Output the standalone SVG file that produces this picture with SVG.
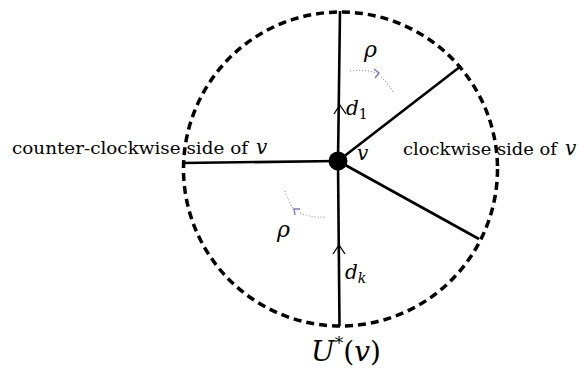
<svg xmlns="http://www.w3.org/2000/svg" width="578" height="373" viewBox="0 0 578 373">
<style>
.edge{stroke:#000;stroke-width:2.6;fill:none;stroke-linecap:butt}
.chev{stroke:#000;stroke-width:1.3;fill:none}
.dot{stroke:#999;stroke-width:1.2;fill:none;stroke-dasharray:1 2}
.ah{stroke:#7a78b8;stroke-width:1.4;fill:none}
text{font-family:"DejaVu Serif","Liberation Serif",serif;fill:#000}
.t{font-size:17px}
.m{font-style:italic}
</style>
<rect width="578" height="373" fill="#fff"/>
<g id="boundary">
<circle cx="340.5" cy="169" r="157" fill="none" stroke="#000" stroke-width="3.5" stroke-dasharray="8 5"/>
</g>
<g id="connectors">
<line class="edge" x1="338" y1="161" x2="340" y2="11"/>
<line class="edge" x1="338" y1="161" x2="461" y2="66"/>
<line class="edge" x1="338" y1="161" x2="479" y2="239"/>
<line class="edge" x1="338" y1="161" x2="339.5" y2="326"/>
<line class="edge" x1="338" y1="161" x2="182" y2="163"/>
<polyline class="chev" points="334,114 339.8,105 346,114"/>
<polyline class="chev" points="333,254 339,245 345,254"/>
<path class="dot" d="M350,71 Q364,69 377,73"/>
<path class="dot" d="M381,77 Q388,83 393,92"/>
<polyline class="ah" points="374,69 379,73 375,78"/>
<path class="dot" d="M285,191 Q288,201 294,210"/>
<path class="dot" d="M300,213 Q312,218 325,217"/>
<polyline class="ah" points="300,209 294,209 295,215"/>
</g>
<g id="v">
<circle cx="338" cy="161" r="9.5" fill="#000"/>
<text class="m" x="357" y="160" font-size="20">v</text>
</g>
<g id="labels">
<text class="t" x="12" y="154" textLength="236" lengthAdjust="spacingAndGlyphs">counter-clockwise side of</text>
<text class="m" x="256" y="154" font-size="20">v</text>
<text class="t" x="403" y="155" textLength="154" lengthAdjust="spacingAndGlyphs">clockwise side of</text>
<text class="m" x="565" y="155" font-size="20">v</text>
<text class="m" x="346" y="115" font-size="20">d<tspan font-size="14" font-style="normal" dy="4">1</tspan></text>
<text class="m" x="345" y="279" font-size="20">d<tspan font-size="14" dy="4">k</tspan></text>
<text class="m" x="364" y="57" font-size="22">ρ</text>
<text class="m" x="277" y="237" font-size="22">ρ</text>
<text class="m" x="346" y="361" font-size="28" text-anchor="middle">U<tspan font-size="17" font-style="normal" dy="-12">*</tspan><tspan font-style="normal" dy="12">(</tspan>v<tspan font-style="normal">)</tspan></text>
</g>
</svg>
